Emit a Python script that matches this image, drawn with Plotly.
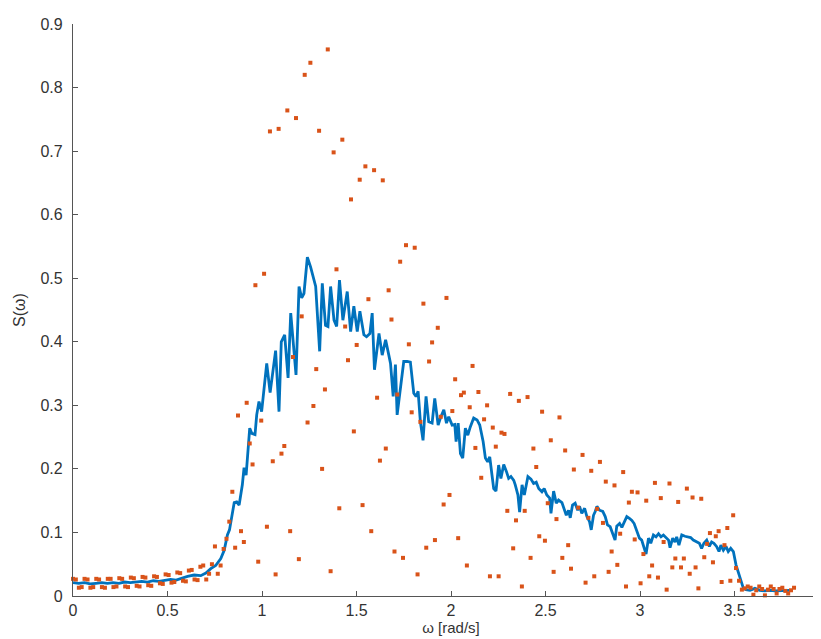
import plotly.graph_objects as go

# ---- smoothed spectrum (blue line) ----
line_w = [0.000, 0.030, 0.061, 0.091, 0.121, 0.152, 0.182, 0.212, 0.243, 0.273, 0.303, 0.334, 0.364, 0.394,
          0.425, 0.455, 0.485, 0.516, 0.546, 0.576, 0.606, 0.641, 0.676, 0.703, 0.729, 0.755, 0.782, 0.800,
          0.817, 0.828, 0.838, 0.853, 0.866, 0.879, 0.896, 0.905, 0.916, 0.928, 0.935, 0.946, 0.963, 0.972,
          0.984, 0.998, 1.025, 1.043, 1.059, 1.072, 1.090, 1.102, 1.120, 1.138, 1.152, 1.180, 1.196, 1.210,
          1.222, 1.240, 1.257, 1.284, 1.305, 1.319, 1.336, 1.349, 1.363, 1.381, 1.395, 1.410, 1.428, 1.451,
          1.469, 1.486, 1.504, 1.518, 1.539, 1.553, 1.571, 1.583, 1.595, 1.619, 1.636, 1.654, 1.671, 1.680,
          1.694, 1.706, 1.715, 1.727, 1.736, 1.750, 1.768, 1.785, 1.803, 1.815, 1.826, 1.838, 1.852, 1.868,
          1.882, 1.900, 1.914, 1.932, 1.944, 1.962, 1.976, 1.988, 2.006, 2.020, 2.027, 2.038, 2.050, 2.062,
          2.076, 2.089, 2.102, 2.120, 2.138, 2.152, 2.170, 2.182, 2.194, 2.205, 2.217, 2.226, 2.238, 2.252,
          2.264, 2.279, 2.293, 2.305, 2.317, 2.332, 2.340, 2.354, 2.363, 2.376, 2.388, 2.407, 2.423, 2.437,
          2.451, 2.464, 2.481, 2.493, 2.507, 2.522, 2.529, 2.543, 2.557, 2.569, 2.587, 2.599, 2.610, 2.622,
          2.631, 2.643, 2.657, 2.670, 2.680, 2.692, 2.707, 2.719, 2.733, 2.742, 2.754, 2.763, 2.772, 2.786,
          2.803, 2.816, 2.828, 2.842, 2.856, 2.868, 2.877, 2.892, 2.904, 2.916, 2.930, 2.944, 2.957, 2.969,
          2.983, 2.997, 3.009, 3.022, 3.032, 3.045, 3.057, 3.071, 3.085, 3.098, 3.111, 3.124, 3.138, 3.151,
          3.159, 3.173, 3.185, 3.194, 3.206, 3.221, 3.238, 3.251, 3.268, 3.282, 3.300, 3.314, 3.326, 3.338,
          3.353, 3.367, 3.379, 3.391, 3.405, 3.418, 3.428, 3.441, 3.455, 3.467, 3.480, 3.494, 3.508, 3.520,
          3.532, 3.547, 3.560, 3.582, 3.608, 3.634, 3.661, 3.687, 3.714, 3.740, 3.766, 3.790]
line_s = [0.021, 0.020, 0.021, 0.019, 0.020, 0.021, 0.020, 0.021, 0.020, 0.022, 0.021, 0.022, 0.023, 0.022,
          0.024, 0.023, 0.025, 0.026, 0.025, 0.028, 0.031, 0.033, 0.032, 0.036, 0.043, 0.048, 0.059, 0.072,
          0.096, 0.104, 0.122, 0.147, 0.148, 0.143, 0.175, 0.202, 0.190, 0.243, 0.264, 0.256, 0.254, 0.285,
          0.306, 0.290, 0.366, 0.320, 0.361, 0.386, 0.290, 0.400, 0.411, 0.343, 0.445, 0.348, 0.487, 0.469,
          0.476, 0.533, 0.518, 0.487, 0.385, 0.492, 0.426, 0.424, 0.487, 0.434, 0.424, 0.497, 0.434, 0.479,
          0.416, 0.456, 0.416, 0.448, 0.411, 0.408, 0.413, 0.445, 0.356, 0.413, 0.379, 0.403, 0.379, 0.366,
          0.314, 0.364, 0.285, 0.314, 0.343, 0.369, 0.369, 0.368, 0.319, 0.314, 0.322, 0.274, 0.245, 0.314,
          0.274, 0.272, 0.311, 0.269, 0.280, 0.293, 0.272, 0.282, 0.269, 0.270, 0.243, 0.272, 0.224, 0.217,
          0.264, 0.253, 0.266, 0.280, 0.277, 0.269, 0.243, 0.217, 0.211, 0.219, 0.190, 0.169, 0.165, 0.206,
          0.185, 0.207, 0.196, 0.185, 0.188, 0.182, 0.175, 0.159, 0.132, 0.175, 0.159, 0.188, 0.184, 0.177,
          0.179, 0.169, 0.164, 0.169, 0.159, 0.154, 0.130, 0.165, 0.146, 0.151, 0.147, 0.135, 0.127, 0.135,
          0.123, 0.143, 0.146, 0.135, 0.141, 0.130, 0.138, 0.125, 0.117, 0.104, 0.127, 0.133, 0.141, 0.135,
          0.133, 0.125, 0.112, 0.109, 0.096, 0.088, 0.110, 0.114, 0.108, 0.117, 0.125, 0.122, 0.119, 0.114,
          0.101, 0.091, 0.088, 0.075, 0.066, 0.091, 0.083, 0.096, 0.093, 0.098, 0.093, 0.096, 0.091, 0.088,
          0.076, 0.091, 0.085, 0.093, 0.080, 0.096, 0.094, 0.093, 0.092, 0.088, 0.085, 0.083, 0.075, 0.083,
          0.088, 0.078, 0.085, 0.083, 0.078, 0.070, 0.080, 0.072, 0.078, 0.070, 0.075, 0.070, 0.049, 0.038,
          0.025, 0.012, 0.010, 0.009, 0.012, 0.009, 0.008, 0.009, 0.008, 0.008, 0.009, 0.009]

# ---- raw periodogram (orange points) ----
pts_w = [0.000, 0.015, 0.031, 0.046, 0.061, 0.077, 0.092, 0.107, 0.123, 0.138, 0.153, 0.169, 0.184, 0.199,
         0.214, 0.230, 0.245, 0.260, 0.276, 0.291, 0.306, 0.322, 0.337, 0.352, 0.368, 0.383, 0.398, 0.414,
         0.429, 0.444, 0.460, 0.475, 0.490, 0.506, 0.521, 0.536, 0.552, 0.567, 0.582, 0.597, 0.613, 0.628,
         0.643, 0.659, 0.674, 0.689, 0.705, 0.720, 0.735, 0.751, 0.766, 0.781, 0.797, 0.812, 0.827, 0.843,
         0.858, 0.873, 0.889, 0.904, 0.919, 0.935, 0.950, 0.965, 0.980, 0.996, 1.011, 1.026, 1.042, 1.057,
         1.072, 1.088, 1.103, 1.118, 1.134, 1.149, 1.164, 1.180, 1.195, 1.210, 1.226, 1.241, 1.256, 1.272,
         1.287, 1.302, 1.318, 1.333, 1.348, 1.363, 1.379, 1.394, 1.409, 1.425, 1.440, 1.455, 1.471, 1.486,
         1.501, 1.517, 1.532, 1.547, 1.563, 1.578, 1.593, 1.609, 1.624, 1.639, 1.655, 1.670, 1.685, 1.701,
         1.716, 1.731, 1.746, 1.762, 1.777, 1.792, 1.808, 1.823, 1.838, 1.854, 1.869, 1.884, 1.900, 1.915,
         1.930, 1.946, 1.961, 1.976, 1.992, 2.007, 2.022, 2.038, 2.053, 2.068, 2.084, 2.099, 2.114, 2.129,
         2.145, 2.160, 2.175, 2.191, 2.206, 2.221, 2.237, 2.252, 2.267, 2.283, 2.298, 2.313, 2.329, 2.344,
         2.359, 2.375, 2.390, 2.405, 2.421, 2.436, 2.451, 2.467, 2.482, 2.497, 2.512, 2.528, 2.543, 2.558,
         2.574, 2.589, 2.604, 2.620, 2.635, 2.650, 2.673, 2.696, 2.712, 2.727, 2.742, 2.758, 2.773, 2.788,
         2.804, 2.819, 2.834, 2.850, 2.865, 2.880, 2.895, 2.911, 2.926, 2.941, 2.957, 2.972, 2.987, 3.003,
         3.018, 3.033, 3.049, 3.064, 3.079, 3.095, 3.110, 3.125, 3.141, 3.156, 3.171, 3.187, 3.202, 3.217,
         3.232, 3.248, 3.263, 3.278, 3.294, 3.309, 3.324, 3.340, 3.355, 3.370, 3.386, 3.401, 3.416, 3.432,
         3.447, 3.462, 3.478, 3.493, 3.508, 3.524, 3.539, 3.554, 3.570, 3.585, 3.600, 3.615, 3.631, 3.646,
         3.661, 3.677, 3.692, 3.707, 3.723, 3.738, 3.753, 3.769, 3.784, 3.799, 3.815]
pts_s = [0.027, 0.026, 0.013, 0.014, 0.027, 0.026, 0.013, 0.014, 0.027, 0.026, 0.014, 0.013, 0.027, 0.027,
         0.014, 0.015, 0.028, 0.027, 0.015, 0.014, 0.029, 0.028, 0.016, 0.015, 0.030, 0.029, 0.017, 0.016,
         0.031, 0.030, 0.020, 0.019, 0.034, 0.033, 0.021, 0.022, 0.037, 0.036, 0.024, 0.023, 0.040, 0.041,
         0.026, 0.025, 0.046, 0.048, 0.026, 0.035, 0.050, 0.078, 0.035, 0.048, 0.074, 0.090, 0.117, 0.164,
         0.076, 0.284, 0.102, 0.085, 0.304, 0.240, 0.207, 0.489, 0.054, 0.276, 0.507, 0.109, 0.731, 0.212,
         0.034, 0.735, 0.224, 0.236, 0.764, 0.102, 0.376, 0.752, 0.058, 0.440, 0.820, 0.273, 0.839, 0.299,
         0.357, 0.732, 0.200, 0.325, 0.860, 0.039, 0.698, 0.514, 0.138, 0.718, 0.424, 0.371, 0.624, 0.259,
         0.395, 0.655, 0.143, 0.676, 0.467, 0.102, 0.670, 0.312, 0.213, 0.654, 0.232, 0.481, 0.435, 0.070,
         0.317, 0.526, 0.060, 0.552, 0.396, 0.289, 0.548, 0.034, 0.274, 0.460, 0.076, 0.369, 0.399, 0.088,
         0.422, 0.282, 0.144, 0.469, 0.159, 0.291, 0.341, 0.091, 0.316, 0.320, 0.048, 0.297, 0.362, 0.233,
         0.321, 0.186, 0.278, 0.300, 0.031, 0.265, 0.235, 0.031, 0.257, 0.255, 0.134, 0.318, 0.075, 0.119,
         0.307, 0.015, 0.134, 0.313, 0.060, 0.232, 0.203, 0.094, 0.290, 0.087, 0.146, 0.245, 0.038, 0.121,
         0.281, 0.060, 0.229, 0.080, 0.043, 0.199, 0.139, 0.222, 0.021, 0.123, 0.197, 0.031, 0.137, 0.211,
         0.115, 0.180, 0.038, 0.070, 0.174, 0.049, 0.098, 0.195, 0.015, 0.147, 0.164, 0.089, 0.163, 0.020,
         0.066, 0.150, 0.031, 0.048, 0.178, 0.029, 0.154, 0.085, 0.010, 0.177, 0.045, 0.059, 0.148, 0.045,
         0.059, 0.169, 0.035, 0.155, 0.045, 0.012, 0.153, 0.061, 0.082, 0.099, 0.053, 0.094, 0.102, 0.022,
         0.080, 0.107, 0.024, 0.127, 0.044, 0.024, 0.010, 0.012, 0.015, 0.013, 0.002, 0.009, 0.015, 0.011,
         0.001, 0.010, 0.015, 0.011, 0.004, 0.011, 0.013, 0.008, 0.004, 0.009, 0.013]

x_ticks = [0, 0.5, 1, 1.5, 2, 2.5, 3, 3.5, 4]
x_tick_text = ["0", "0.5", "1", "1.5", "2", "2.5", "3", "3.5", "4"]
y_ticks = [0, 0.1, 0.2, 0.3, 0.4, 0.5, 0.6, 0.7, 0.8, 0.9]
y_tick_text = ["0", "0.1", "0.2", "0.3", "0.4", "0.5", "0.6", "0.7", "0.8", "0.9"]

BLUE = "#0072BD"
ORANGE = "#D95319"
AX = "#555555"
TXT = "#333333"
FONT = "Liberation Sans, Arial, Helvetica, sans-serif"

fig = go.Figure()
fig.add_trace(go.Scatter(x=line_w, y=line_s, mode="lines",
                         line=dict(color=BLUE, width=2.8), showlegend=False))
fig.add_trace(go.Scatter(x=pts_w, y=pts_s, mode="markers",
                         marker=dict(symbol="square", size=4, color=ORANGE, line=dict(width=0)),
                         showlegend=False, cliponaxis=False))

fig.update_layout(
    width=821, height=639,
    margin=dict(l=65, r=0, t=16, b=51, autoexpand=False),
    paper_bgcolor="white", plot_bgcolor="white",
    font=dict(family=FONT, size=16, color=TXT),
    xaxis=dict(range=[0, 4], tickvals=x_ticks, ticktext=x_tick_text,
               ticks="inside", ticklen=5, tickwidth=1, tickcolor=AX,
               showline=True, linecolor=AX, linewidth=1.2, showgrid=False, zeroline=False,
               ticklabeloverflow="allow", ticklabelstandoff=0,
               title=dict(text="ω [rad/s]", font=dict(size=15, color=TXT), standoff=2)),
    yaxis=dict(range=[0, 0.9], tickvals=y_ticks, ticktext=y_tick_text,
               ticks="inside", ticklen=5, tickwidth=1, tickcolor=AX,
               showline=True, linecolor=AX, linewidth=1.2, showgrid=False, zeroline=False,
               ticklabelstandoff=6,
               title=dict(text="S(ω)", font=dict(size=16, color=TXT), standoff=10)),
)

fig.write_html("out.html")
